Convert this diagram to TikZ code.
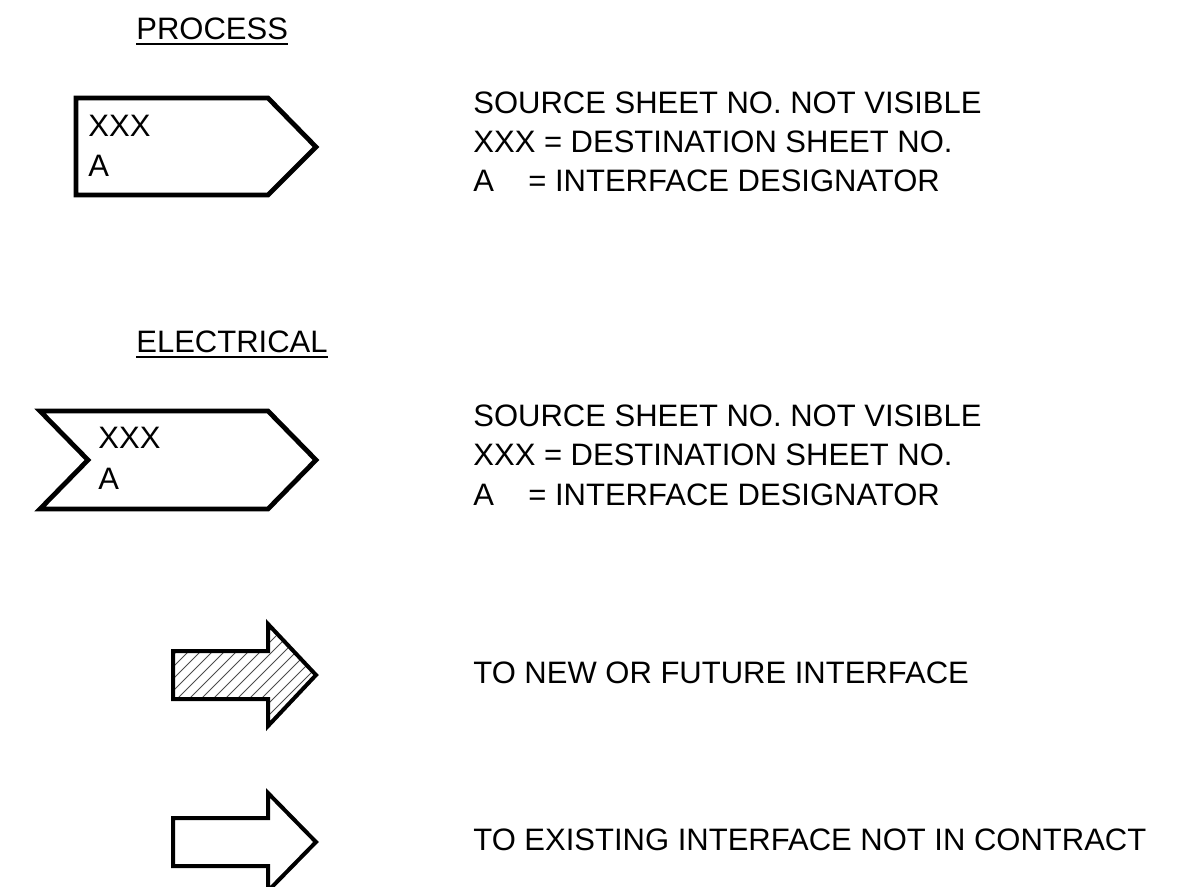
\documentclass[tikz,border=0pt]{standalone}
\usepackage{fontspec}
\setmainfont{Liberation Sans}

\begin{document}
\begin{tikzpicture}[x=0.5pt,y=-0.5pt]
\tikzset{
  textlabel/.style={anchor=base west,inner sep=0pt,font=\fontsize{15.5}{19}\selectfont},
  symbolline/.style={draw=black,line width=2.4pt,line join=miter},
  arrowline/.style={draw=black,line width=2pt,line join=miter},
  hatchline/.style={draw=black!70,line width=0.5pt},
  titlerule/.style={draw=black,line width=1pt}
}
\useasboundingbox (0,0) rectangle (1183,887);
% titles
\node[textlabel] (ptitle) at (136,40) {PROCESS};
\node[textlabel] (etitle) at (136,353) {ELECTRICAL};
\draw[titlerule] ([yshift=-2pt]ptitle.base west) -- ([yshift=-2pt]ptitle.base east);
\draw[titlerule] ([yshift=-2pt]etitle.base west) -- ([yshift=-2pt]etitle.base east);
% process symbol
\draw[symbolline] (76,98) -- (268,98) -- (316,147) -- (268,195) -- (76,195) -- cycle;
\node[textlabel] (pxxx) at (88,137) {XXX};
\node[textlabel] (pa) at (88,177) {A};
\node[textlabel] (psrc) at (473,114) {SOURCE SHEET NO. NOT VISIBLE};
\node[textlabel] (pdest) at (473,153) {XXX = DESTINATION SHEET NO.};
\node[textlabel] (pdesig) at (473,192) {A\hspace{0.83em} = INTERFACE DESIGNATOR};
% electrical symbol
\draw[symbolline] (40,411) -- (268,411) -- (316,460) -- (268,509) -- (40,509) -- (88,460) -- cycle;
\node[textlabel] (exxx) at (98,449) {XXX};
\node[textlabel] (ea) at (98,489) {A};
\node[textlabel] (esrc) at (473,427) {SOURCE SHEET NO. NOT VISIBLE};
\node[textlabel] (edest) at (473,466) {XXX = DESTINATION SHEET NO.};
\node[textlabel] (edesig) at (473,505) {A\hspace{0.83em} = INTERFACE DESIGNATOR};
% new / future interface
\begin{scope}
  \clip (173,651) -- (268,651) -- (268,624) -- (316,675) -- (268,726) -- (268,699) -- (173,699) -- cycle;
  \foreach \h in {62,74,...,326}
    \draw[hatchline] (\h,730) -- ++(110,-110);
\end{scope}
\draw[arrowline] (173,651) -- (268,651) -- (268,624) -- (316,675) -- (268,726) -- (268,699) -- (173,699) -- cycle;
\node[textlabel] (newtext) at (473,683) {TO NEW OR FUTURE INTERFACE};
% existing interface
\draw[arrowline] (173,818) -- (268,818) -- (268,793) -- (316,842) -- (268,891) -- (268,866) -- (173,866) -- cycle;
\node[textlabel] (oldtext) at (473,850) {TO EXISTING INTERFACE NOT IN CONTRACT};
\end{tikzpicture}
\end{document}
